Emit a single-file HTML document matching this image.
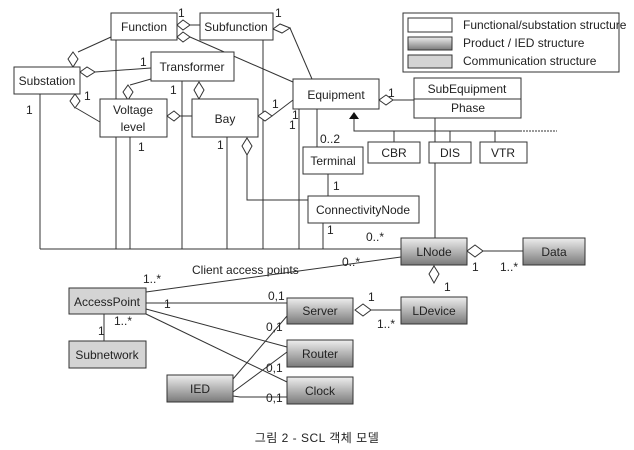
<!DOCTYPE html>
<html><head><meta charset="utf-8"><style>
body{margin:0;background:#fff}
svg{display:block}
text{font-family:"Liberation Sans",Arial,sans-serif;font-size:12px;fill:#222}
</style></head><body>
<svg width="634" height="450" viewBox="0 0 634 450" xmlns="http://www.w3.org/2000/svg">
<defs>
<linearGradient id="g" x1="0" y1="0" x2="0" y2="1"><stop offset="0" stop-color="#eeeeee"/><stop offset="1" stop-color="#7a7a7a"/></linearGradient>
</defs>
<g stroke="#333" stroke-width="1" fill="none">
<line x1="40" y1="249" x2="401" y2="249"/>
<line x1="40" y1="94" x2="40" y2="249"/>
<line x1="116" y1="40" x2="116" y2="249"/>
<line x1="130" y1="137" x2="130" y2="249"/>
<line x1="182" y1="81" x2="182" y2="249"/>
<line x1="227" y1="137" x2="227" y2="249"/>
<line x1="263" y1="40" x2="263" y2="249"/>
<line x1="299" y1="109" x2="299" y2="249"/>
<line x1="323" y1="223" x2="323" y2="249"/>
<line x1="317" y1="109" x2="317" y2="147"/>
<line x1="328" y1="174" x2="328" y2="196"/>
<polyline points="247,155 247,200 308,200"/>
<line x1="435" y1="118" x2="435" y2="238"/>
<line x1="200" y1="25" x2="190" y2="25"/>
<line x1="190" y1="37" x2="293" y2="82"/>
<line x1="290" y1="28" x2="312" y2="79"/>
<line x1="111" y1="37" x2="78" y2="52"/>
<line x1="95" y1="72" x2="151" y2="68"/>
<line x1="76" y1="108" x2="100" y2="122"/>
<line x1="130" y1="85" x2="151" y2="79"/>
<line x1="180" y1="116" x2="192" y2="116"/>
<line x1="272" y1="116" x2="293" y2="100"/>
<line x1="393" y1="100" x2="414" y2="100"/>
<polyline points="354,118 354,131 520,131"/>
<line x1="520" y1="131" x2="557" y2="131" stroke-dasharray="2,1"/>
<line x1="394" y1="131" x2="394" y2="142"/>
<line x1="450" y1="131" x2="450" y2="142"/>
<line x1="495" y1="131" x2="495" y2="142"/>
<line x1="483" y1="251" x2="523" y2="251"/>
<line x1="434" y1="265" x2="434" y2="268"/>
<line x1="371" y1="310" x2="401" y2="310"/>
<line x1="146" y1="292" x2="401" y2="257"/>
<line x1="146" y1="303" x2="287" y2="303"/>
<line x1="146" y1="309" x2="287" y2="347"/>
<line x1="146" y1="314" x2="287" y2="382"/>
<line x1="233" y1="379" x2="287" y2="316"/>
<line x1="233" y1="392" x2="287" y2="352"/>
<polyline points="233,396 240,397 287,397"/>
<line x1="104" y1="314" x2="104" y2="341"/>
</g>
<g stroke="#333" fill="#fff">
<polygon points="177,25 183,20 190,25 183,30"/>
<polygon points="177,37 183,32 190,37 183,42"/>
<polygon points="273,29 280,24 290,28 282,33"/>
<polygon points="73,52 78,59 73,67 68,59"/>
<polygon points="80,72 87,67 95,72 87,77"/>
<polygon points="75,94 80,101 75,108 70,101"/>
<polygon points="128,85 133,92 128,100 123,92"/>
<polygon points="167,116 174,111 180,116 174,121"/>
<polygon points="199,82 204,90 199,99 194,90"/>
<polygon points="258,116 265,111 272,116 265,121"/>
<polygon points="379,100 386,95 393,100 386,105"/>
<polygon points="247,138 252,146 247,155 242,146"/>
<polygon points="467,251 475,245 483,251 475,257"/>
<polygon points="434,266 439,274 434,283 429,274"/>
<polygon points="355,310 363,304 371,310 363,316"/>
</g>
<polygon points="354,112 349,119 359,119" fill="#111"/>
<g stroke="#333" fill="#fff">
<rect x="111" y="13" width="66" height="27"/>
<rect x="200" y="13" width="73" height="27"/>
<rect x="151" y="52" width="83" height="29"/>
<rect x="14" y="67" width="66" height="27"/>
<rect x="100" y="99" width="67" height="38"/>
<rect x="192" y="99" width="66" height="38"/>
<rect x="293" y="79" width="86" height="30"/>
<rect x="414" y="78" width="107" height="40"/>
<line x1="414" y1="99" x2="521" y2="99"/>
<rect x="303" y="147" width="60" height="27"/>
<rect x="308" y="196" width="111" height="27"/>
<rect x="368" y="142" width="52" height="21"/>
<rect x="429" y="142" width="42" height="21"/>
<rect x="480" y="142" width="47" height="21"/>
<rect x="403" y="13" width="216" height="59"/>
<rect x="408" y="18" width="44" height="14"/>
</g>
<rect x="408" y="37" width="44" height="13" fill="url(#g)" stroke="#333"/>
<rect x="408" y="55" width="44" height="13" fill="#d4d4d4" stroke="#333"/>
<g stroke="#333" fill="url(#g)">
<rect x="401" y="238" width="66" height="27"/>
<rect x="523" y="238" width="62" height="27"/>
<rect x="401" y="297" width="66" height="27"/>
<rect x="287" y="298" width="66" height="26"/>
<rect x="287" y="340" width="66" height="27"/>
<rect x="287" y="377" width="66" height="27"/>
<rect x="167" y="375" width="66" height="27"/>
</g>
<g stroke="#333" fill="#d4d4d4">
<rect x="69" y="288" width="77" height="26"/>
<rect x="69" y="341" width="77" height="27"/>
</g>
<g font-size="12">
<text x="144" y="31" text-anchor="middle">Function</text>
<text x="236" y="31" text-anchor="middle">Subfunction</text>
<text x="192" y="71" text-anchor="middle">Transformer</text>
<text x="47" y="85" text-anchor="middle">Substation</text>
<text x="133" y="114" text-anchor="middle">Voltage</text>
<text x="133" y="131" text-anchor="middle">level</text>
<text x="225" y="123" text-anchor="middle">Bay</text>
<text x="336" y="99" text-anchor="middle">Equipment</text>
<text x="467" y="93" text-anchor="middle">SubEquipment</text>
<text x="468" y="112" text-anchor="middle">Phase</text>
<text x="333" y="165" text-anchor="middle">Terminal</text>
<text x="363" y="214" text-anchor="middle">ConnectivityNode</text>
<text x="394" y="157" text-anchor="middle">CBR</text>
<text x="450" y="157" text-anchor="middle">DIS</text>
<text x="503" y="157" text-anchor="middle">VTR</text>
<text x="434" y="256" text-anchor="middle">LNode</text>
<text x="554" y="256" text-anchor="middle">Data</text>
<text x="434" y="315" text-anchor="middle">LDevice</text>
<text x="320" y="315" text-anchor="middle">Server</text>
<text x="320" y="358" text-anchor="middle">Router</text>
<text x="320" y="395" text-anchor="middle">Clock</text>
<text x="200" y="393" text-anchor="middle">IED</text>
<text x="107" y="306" text-anchor="middle">AccessPoint</text>
<text x="107" y="359" text-anchor="middle">Subnetwork</text>
</g>
<g font-size="11">
<text x="463" y="29" font-size="10.5">Functional/substation structure</text>
<text x="463" y="47" font-size="10.5">Product / IED structure</text>
<text x="463" y="65" font-size="10.5">Communication structure</text>
<text x="192" y="274">Client access points</text>
<text x="178" y="17">1</text><text x="275" y="17">1</text>
<text x="140" y="66">1</text><text x="84" y="100">1</text><text x="26" y="114">1</text>
<text x="170" y="94">1</text><text x="138" y="151">1</text><text x="217" y="149">1</text>
<text x="272" y="108">1</text><text x="292" y="119">1</text><text x="289" y="129">1</text>
<text x="320" y="143">0..2</text><text x="333" y="190">1</text><text x="327" y="234">1</text>
<text x="366" y="241">0..*</text><text x="342" y="266">0..*</text>
<text x="472" y="271">1</text><text x="500" y="271">1..*</text><text x="444" y="291">1</text>
<text x="368" y="301">1</text><text x="377" y="328">1..*</text>
<text x="143" y="283">1..*</text><text x="164" y="308">1</text>
<text x="268" y="300">0,1</text><text x="266" y="331">0,1</text>
<text x="266" y="372">0,1</text><text x="266" y="402">0,1</text>
<text x="114" y="325">1..*</text><text x="98" y="335">1</text>
</g>
<text x="388" y="97" font-size="15">1</text>
<text x="317" y="442" text-anchor="middle" font-size="14" letter-spacing="0.5" style="font-family:'Liberation Sans','Noto Sans CJK KR',sans-serif">그림 2 - SCL 객체 모델</text>
</svg>
</body></html>
